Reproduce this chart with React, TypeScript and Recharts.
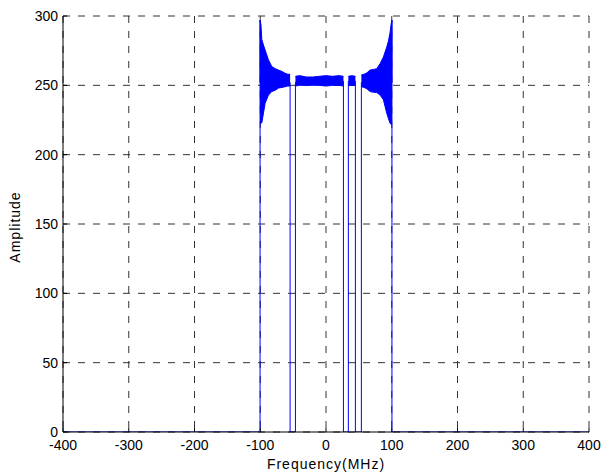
import React from 'react';
import {
  ComposedChart,
  Area,
  Line,
  XAxis,
  YAxis,
  CartesianGrid,
} from 'recharts';

// Axis ticks
const X_TICKS = [-400, -300, -200, -100, 0, 100, 200, 300, 400];
const Y_TICKS = [0, 50, 100, 150, 200, 250, 300];

// Envelope of the dense oscillating band, split into the four lit segments
const seg1X = [-100.3, -99, -97.6, -95.1, -92.6, -87.5, -82.4, -77, -72.3, -67, -62.2, -58, -54.6];
const seg1High = [297, 294, 283, 279, 275.5, 268.3, 263.5, 262, 261, 260, 258.7, 258, 258];
const seg1Low = [222.6, 222.6, 223, 230, 237, 243, 245.5, 246.5, 248, 248.5, 249, 249.5, 249.5];

const seg2X = [-46.5, -40, -30, -20, -10, 0, 10, 20, 26.5];
const seg2High = [256.5, 257, 256, 256, 256.5, 257, 256.5, 257, 256.5];
const seg2Low = [249.5, 250, 250, 250, 250, 249.5, 250, 250, 249.5];

const seg3X = [34, 39, 44.7];
const seg3High = [256.5, 257, 256.5];
const seg3Low = [250, 250, 250];

const seg4X = [53.8, 58, 62.2, 67, 72.3, 77.2, 82.2, 87.3, 92.4, 95, 97.4, 99, 100.3];
const seg4High = [257.5, 258, 259, 261, 261.5, 262, 265.6, 270.4, 277.6, 282, 288, 294, 297];
const seg4Low = [249, 248.5, 247.5, 245.5, 245, 244.8, 243, 239.6, 229.8, 226, 222.6, 222, 222];

// Skeleton of the trace: baseline, drops to zero and the edge spikes
const traceX = [-400, -100.3, -100.3, -100.3, -54.6, -54.6, -46.5, -46.5, 26.5, 26.5, 34, 34, 44.7, 44.7, 53.8, 53.8, 100.3, 100.3, 100.3, 400];
const traceY = [0, 0, 297, 252, 252, 0, 0, 252, 253, 0, 0, 253, 253, 0, 0, 252, 252, 297, 0, 0];

const toBand = (xs: number[], hi: number[], lo: number[]) =>
  xs.map((x, i) => ({ x, range: [lo[i], hi[i]] }));

const band1 = toBand(seg1X, seg1High, seg1Low);
const band2 = toBand(seg2X, seg2High, seg2Low);
const band3 = toBand(seg3X, seg3High, seg3Low);
const band4 = toBand(seg4X, seg4High, seg4Low);
const trace = traceX.map((x, i) => ({ x, y: traceY[i] }));

const FONT = '"Liberation Sans", Arial, Helvetica, sans-serif';
const BLUE = '#0000ff';

const tickStyle = { fill: '#000', fontSize: 14, fontFamily: FONT };

export default function App() {
  return (
    <div style={{ position: 'absolute', left: 0, top: 0, background: '#fff' }}>
      <ComposedChart
        width={603}
        height={475}
        margin={{ top: 16, right: 14, bottom: 0, left: 0 }}
      >
        <CartesianGrid
          stroke="#333"
          strokeDasharray="7 8"
          verticalValues={X_TICKS}
          horizontalValues={Y_TICKS}
        />
        <XAxis
          dataKey="x"
          type="number"
          domain={[-400, 400]}
          ticks={X_TICKS}
          allowDataOverflow
          height={43}
          axisLine={{ stroke: '#000' }}
          tickLine={{ stroke: '#000' }}
          tickSize={-4}
          tickMargin={12}
          tick={tickStyle}
          interval={0}
          label={{
            value: 'Frequency(MHz)',
            position: 'insideBottom',
            offset: 6,
            style: { fill: '#000', fontSize: 14, fontFamily: FONT, letterSpacing: 1 },
          }}
        />
        <XAxis
          xAxisId="top"
          orientation="top"
          type="number"
          domain={[-400, 400]}
          ticks={X_TICKS}
          height={0}
          axisLine={{ stroke: '#000' }}
          tickLine={{ stroke: '#000' }}
          tickSize={-4}
          tick={false}
        />
        <YAxis
          type="number"
          domain={[0, 300]}
          ticks={Y_TICKS}
          allowDataOverflow
          width={63}
          axisLine={{ stroke: '#000' }}
          tickLine={{ stroke: '#000' }}
          tickSize={-4}
          tickMargin={9}
          tick={tickStyle}
          interval={0}
          label={{
            content: () => (
              <text
                x={19.5}
                y={227}
                transform="rotate(-90 19.5 227)"
                textAnchor="middle"
                fill="#000"
                fontSize={14}
                fontFamily={FONT}
                letterSpacing={1}
              >
                Amplitude
              </text>
            ),
          }}
        />
        <YAxis
          yAxisId="right"
          orientation="right"
          type="number"
          domain={[0, 300]}
          ticks={Y_TICKS}
          width={0}
          axisLine={{ stroke: '#000' }}
          tickLine={{ stroke: '#000' }}
          tickSize={-4}
          tick={false}
        />
        {[band1, band2, band3, band4].map((b, i) => (
          <Area
            key={i}
            data={b}
            dataKey="range"
            type="linear"
            stroke={BLUE}
            strokeWidth={1}
            fill={BLUE}
            fillOpacity={1}
            isAnimationActive={false}
            dot={false}
            activeDot={false}
          />
        ))}
        <Line
          data={trace}
          dataKey="y"
          type="linear"
          stroke={BLUE}
          strokeWidth={1}
          dot={false}
          activeDot={false}
          isAnimationActive={false}
        />
      </ComposedChart>
    </div>
  );
}
